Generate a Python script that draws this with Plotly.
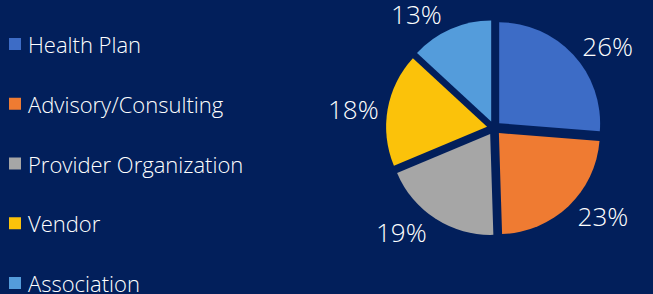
import plotly.graph_objects as go

categories = ["Health Plan", "Advisory/Consulting", "Provider Organization", "Vendor", "Association"]
values = [26, 23, 19, 18, 13]
colors = ["#3d6cc6", "#ef7b32", "#a6a6a6", "#fbc20a", "#549cdb"]

BG = "#021f5b"
FONT = "Open Sans"
W, H = 653, 294

fig = go.Figure()
fig.add_trace(go.Pie(
    labels=categories,
    values=values,
    sort=False,
    direction="clockwise",
    rotation=0,
    pull=[0.07] * len(values),
    marker=dict(colors=colors, line=dict(width=0)),
    textinfo="percent",
    texttemplate="%{value}%",
    textposition="outside",
    outsidetextfont=dict(color="white", size=26, family=FONT, weight=300),
    domain=dict(x=[385 / W, 603 / W], y=[1 - 236 / H, 1 - 20 / H]),
    showlegend=False,
    hoverinfo="label+percent",
))

# legend drawn as paper-positioned squares + text
first_y, step = 44, 59.75
for i, (c, col) in enumerate(zip(categories, colors)):
    yc = first_y + i * step
    fig.add_shape(type="rect", xref="paper", yref="paper",
                  x0=9 / W, x1=21 / W, y0=1 - (yc + 6) / H, y1=1 - (yc - 6) / H,
                  fillcolor=col, line=dict(width=0))
    fig.add_annotation(xref="paper", yref="paper", x=26 / W, y=1 - yc / H,
                       xanchor="left", yanchor="middle", text=c, showarrow=False,
                       font=dict(color="white", size=22, family=FONT, weight=300))

fig.update_layout(
    width=W, height=H,
    paper_bgcolor=BG, plot_bgcolor=BG,
    margin=dict(l=0, r=0, t=0, b=0, autoexpand=False),
    showlegend=False,
)

fig.write_html("out.html", config={"displayModeBar": False},
               post_script="document.body.style.margin='0';document.body.style.background='%s';" % BG)
